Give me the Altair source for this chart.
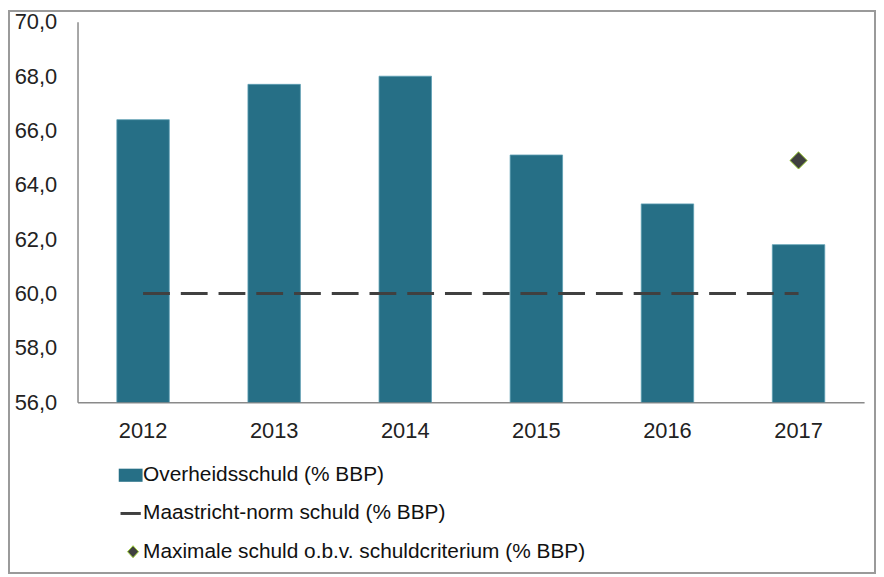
import altair as alt
import pandas as pd

years = ["2012", "2013", "2014", "2015", "2016", "2017"]
debt = [66.4, 67.7, 68.0, 65.1, 63.3, 61.8]
norm = [60.0, 60.0, 60.0, 60.0, 60.0, 60.0]
max_years = ["2017"]
max_values = [64.9]
series = [
    "Overheidsschuld (% BBP)",
    "Maastricht-norm schuld (% BBP)",
    "Maximale schuld o.b.v. schuldcriterium (% BBP)",
]
y_ticks = [56, 58, 60, 62, 64, 66, 68, 70]

BAR = "#266f86"
LINE = "#404040"
DIAMOND = "#404040"
GREEN = "#9acd32"

bars_df = pd.DataFrame({"year": years, "value": debt, "series": series[0]})
norm_df = pd.DataFrame({"year": years, "value": norm, "series": series[1]})
max_df = pd.DataFrame({"year": max_years, "value": max_values, "series": series[2]})

xscale = alt.Scale(domain=years, paddingInner=0.6, paddingOuter=0.3)
yscale = alt.Scale(domain=[56, 70], nice=False, zero=False)

x_axis = alt.Axis(
    title=None, labelAngle=0, ticks=False, labelFontSize=22, labelPadding=19,
    labelFont="Liberation Sans", labelColor="#222222",
    domainColor="#8a8a8a", domainWidth=1.5,
)
y_axis = alt.Axis(
    title=None, values=y_ticks, ticks=False, grid=False, labelFontSize=22,
    labelPadding=21, labelFont="Liberation Sans", labelColor="#222222",
    domainColor="#8a8a8a", domainWidth=1.5,
    labelExpr="replace(format(datum.value, '.1f'), '.', ',')",
)

sym_expr = (
    f"datum.value == '{series[0]}' ? 'M-1,-0.55L1,-0.55L1,0.55L-1,0.55Z' : "
    f"datum.value == '{series[1]}' ? 'M-0.85,0L0.85,0' : "
    "'M0.2,-0.5L0.66,0L0.2,0.5L-0.26,0Z'"
)
stroke_expr = (
    f"datum.value == '{series[1]}' ? '{LINE}' : "
    f"datum.value == '{series[2]}' ? '{GREEN}' : 'transparent'"
)
sw_expr = f"datum.value == '{series[1]}' ? 3 : 1"

legend = alt.Legend(
    title=None, orient="none", legendX=43, legendY=446, direction="vertical",
    symbolType={"expr": sym_expr}, symbolSize=576,
    symbolStrokeColor={"expr": stroke_expr},
    symbolStrokeWidth={"expr": sw_expr},
    symbolOpacity=1,
    labelFont="Liberation Sans", labelFontSize=21, labelColor="#111111",
    labelOffset=2, rowPadding=16.5, labelLimit=600, padding=0,
)

bars = alt.Chart(bars_df).mark_bar(stroke="#5d9fb3", strokeWidth=0.8, clip=True).encode(
    x=alt.X("year:N", scale=xscale, axis=x_axis, sort=years),
    y=alt.Y("value:Q", scale=yscale, axis=y_axis),
    color=alt.Color(
        "series:N",
        scale=alt.Scale(domain=series, range=[BAR, LINE, DIAMOND]),
        legend=legend,
    ),
)

norm_line = alt.Chart(norm_df).mark_line(
    color=LINE, strokeWidth=3, strokeDash=[27, 11]
).encode(
    x=alt.X("year:N", scale=xscale, sort=years),
    y=alt.Y("value:Q", scale=yscale),
)

max_pt = alt.Chart(max_df).mark_point(
    shape="diamond", filled=True, fill=DIAMOND, stroke=GREEN, strokeWidth=1,
    size=300, opacity=1,
).encode(
    x=alt.X("year:N", scale=xscale, sort=years),
    y=alt.Y("value:Q", scale=yscale),
)

border = alt.Chart(bars_df.head(1)).mark_rect(
    fill=None, stroke="#9a9a9a", strokeWidth=2
).encode(
    x=alt.value(-69), x2=alt.value(803), y=alt.value(-11), y2=alt.value(555),
)

chart = alt.layer(bars, norm_line, max_pt, border).properties(
    width=792, height=383,
    autosize=alt.AutoSizeParams(type="none"),
    padding={"left": 70, "top": 12, "right": 12, "bottom": 173},
    background="white",
).configure_view(stroke=None)

chart.save("out.html", embed_options={"renderer": "svg", "actions": False})
